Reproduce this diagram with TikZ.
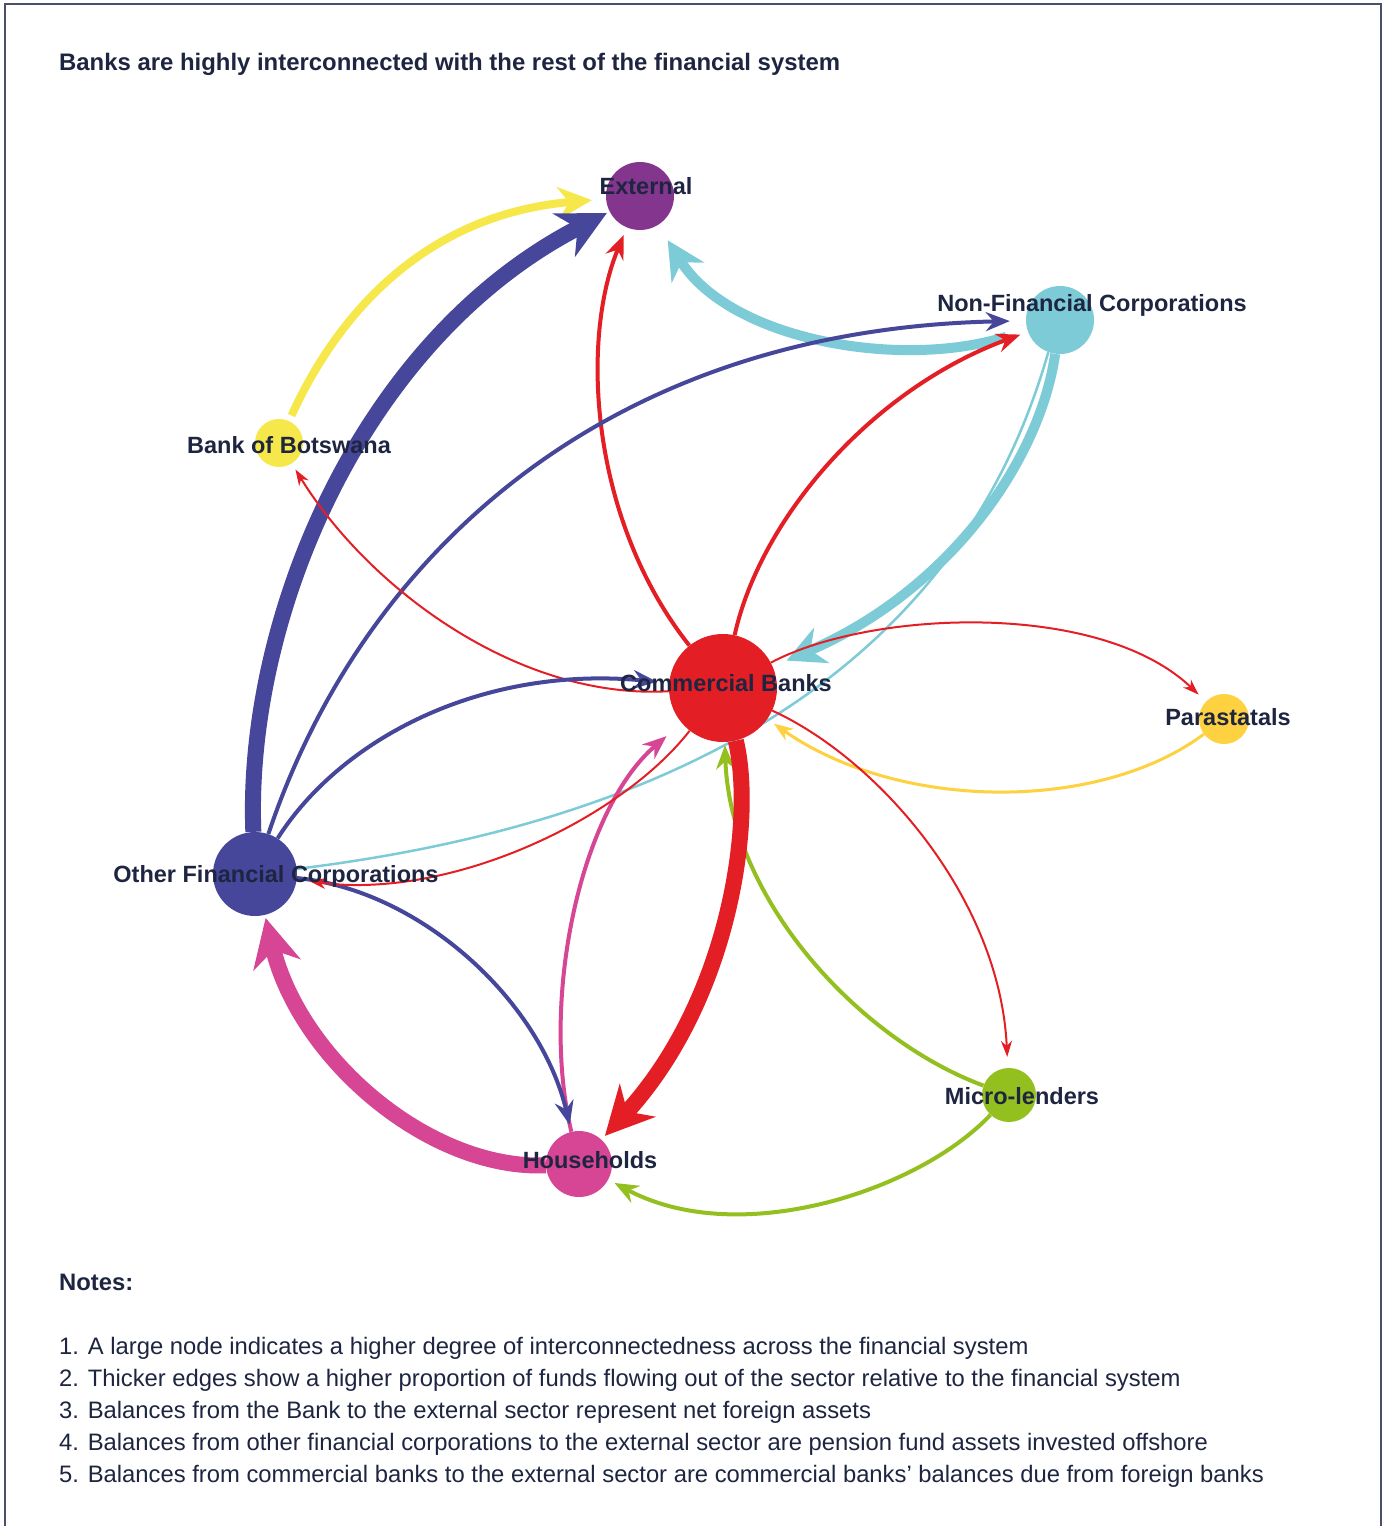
\documentclass[tikz,border=0pt]{standalone}
\usepackage{fontspec}
\setmainfont{Liberation Sans}
\usetikzlibrary{arrows.meta,backgrounds}
\definecolor{cCB}{HTML}{E31E24}
\definecolor{cOFC}{HTML}{46479A}
\definecolor{cNFC}{HTML}{7ECBD8}
\definecolor{cBoB}{HTML}{F6E84A}
\definecolor{cExt}{HTML}{84358D}
\definecolor{cPar}{HTML}{FDD13F}
\definecolor{cHH}{HTML}{D64695}
\definecolor{cML}{HTML}{93C01F}
\definecolor{txt}{HTML}{1E2541}
\definecolor{frm}{HTML}{4A5068}
\tikzset{
  nd/.style={circle, inner sep=0pt, minimum size=#1, draw=none},
  lbl/.style={font=\fontsize{23.5}{28}\selectfont\bfseries, text=txt, anchor=base, inner sep=0pt},
  note/.style={font=\fontsize{23.8}{28}\selectfont, text=txt, anchor=base west, inner sep=0pt},
  e14/.style={line width=16pt, -{Stealth[length=48pt,width=48pt,inset=15pt]}},
  e10/.style={line width=10pt, -{Stealth[length=38pt,width=38pt,inset=12pt]}},
  e8/.style={line width=8pt, -{Stealth[length=34pt,width=32pt,inset=11pt]}},
  e4/.style={line width=4pt, -{Stealth[length=24pt,width=19pt,inset=8pt]}},
  e3/.style={line width=3pt, -{Stealth[length=19pt,width=14pt,inset=6pt]}},
  e2/.style={line width=2pt, -{Stealth[length=16pt,width=11pt,inset=5pt]}},
}
\begin{document}
\begin{tikzpicture}[x=1pt,y=-1pt]
\useasboundingbox (0,0) rectangle (1387,1526);

% title
\node[font=\fontsize{23.9}{28}\selectfont\bfseries, text=txt, anchor=base west, inner sep=0pt] (title) at (59,70) {Banks are highly interconnected with the rest of the financial system};

% nodes
\node[nd=68pt, fill=cExt] (ext) at (640,196) {};
\node[nd=68pt, fill=cNFC] (nfc) at (1060,320) {};
\node[nd=48pt, fill=cBoB] (bob) at (279,443) {};
\node[nd=108pt, fill=cCB] (cb) at (723,688) {};
\node[nd=50pt, fill=cPar] (par) at (1224,719) {};
\node[nd=84pt, fill=cOFC] (ofc) at (255,874) {};
\node[nd=66pt, fill=cHH] (hh) at (579,1164) {};
\node[nd=54pt, fill=cML] (ml) at (1009,1095) {};

% edges
\begin{pgfonlayer}{background}
\fill[white] (0,0) rectangle (1387,1526);
\draw[frm, line width=1.5pt] (5,4) rectangle (1381,1545);
\draw[line width=2.5pt, cNFC] (nfc.250) .. controls (1000,520) and (860,800) .. (ofc);
\draw[e8, cBoB, shorten <=6pt, shorten >=14pt] (bob) .. controls (335,320) and (420,215) .. (ext);
\draw[e14, cOFC, shorten >=3pt] (ofc) .. controls (245,620) and (360,340) .. (ext);
\draw[e4, cCB, shorten >=8pt] (cb) .. controls (590,520) and (580,340) .. (ext);
\draw[e10, cNFC, shorten <=22pt, shorten >=18pt] (nfc) .. controls (900,370) and (730,340) .. (ext);
\draw[e4, cOFC, shorten >=16pt] (ofc) .. controls (360,560) and (600,330) .. (nfc);
\draw[e4, cCB, shorten >=8pt] (cb) .. controls (760,520) and (870,390) .. (nfc);
\draw[e10, cNFC, shorten >=15pt] (nfc) .. controls (1040,460) and (950,590) .. (cb);
\draw[e2, cCB, shorten >=7pt] (cb) .. controls (520,700) and (370,590) .. (bob);
\draw[e2, cCB, shorten >=10pt] (cb) .. controls (870,610) and (1100,600) .. (par);
\draw[e3, cPar, shorten >=8pt] (par) .. controls (1100,812) and (900,812) .. (cb);
\draw[e2, cCB, shorten >=11pt] (cb) .. controls (880,760) and (1000,900) .. (ml);
\draw[e4, cML, shorten >=3pt] (ml) .. controls (860,1040) and (730,900) .. (cb);
\draw[e4, cML, shorten >=7pt] (ml) .. controls (920,1190) and (740,1250) .. (hh);
\draw[e14, cCB, shorten >=5pt] (cb) .. controls (755,820) and (730,1000) .. (hh);
\draw[e4, cHH, shorten >=20pt] (hh) .. controls (540,1000) and (580,810) .. (cb);
\draw[e14, cHH, shorten >=3pt] (hh) .. controls (430,1170) and (300,1060) .. (ofc);
\draw[e4, cOFC, shorten >=7pt] (ofc) .. controls (420,890) and (540,1000) .. (hh);
\draw[e4, cOFC, shorten >=12pt] (ofc) .. controls (340,740) and (480,665) .. (cb);
\draw[e2, cCB, shorten >=13pt] (cb) .. controls (620,820) and (450,900) .. (ofc);
\end{pgfonlayer}

% labels
\node[lbl] (extl) at (646,194) {External};
\node[lbl] (nfcl) at (1092,311) {Non-Financial Corporations};
\node[lbl] (bobl) at (289,453) {Bank of Botswana};
\node[lbl] (cbl) at (726,691) {Commercial Banks};
\node[lbl] (parl) at (1228,725) {Parastatals};
\node[lbl] (ofcl) at (276,882) {Other Financial Corporations};
\node[lbl] (hhl) at (590,1168) {Households};
\node[lbl] (mll) at (1022,1104) {Micro-lenders};

% notes
\node[font=\fontsize{23.8}{28}\selectfont\bfseries, text=txt, anchor=base west, inner sep=0pt] (notes) at (59,1290) {Notes:};
\node[note] (n1) at (59,1354) {1. A large node indicates a higher degree of interconnectedness across the financial system};
\node[note] (n2) at (59,1386) {2. Thicker edges show a higher proportion of funds flowing out of the sector relative to the financial system};
\node[note] (n3) at (59,1418) {3. Balances from the Bank to the external sector represent net foreign assets};
\node[note] (n4) at (59,1450) {4. Balances from other financial corporations to the external sector are pension fund assets invested offshore};
\node[note] (n5) at (59,1482) {5. Balances from commercial banks to the external sector are commercial banks’ balances due from foreign banks};
\end{tikzpicture}
\end{document}
